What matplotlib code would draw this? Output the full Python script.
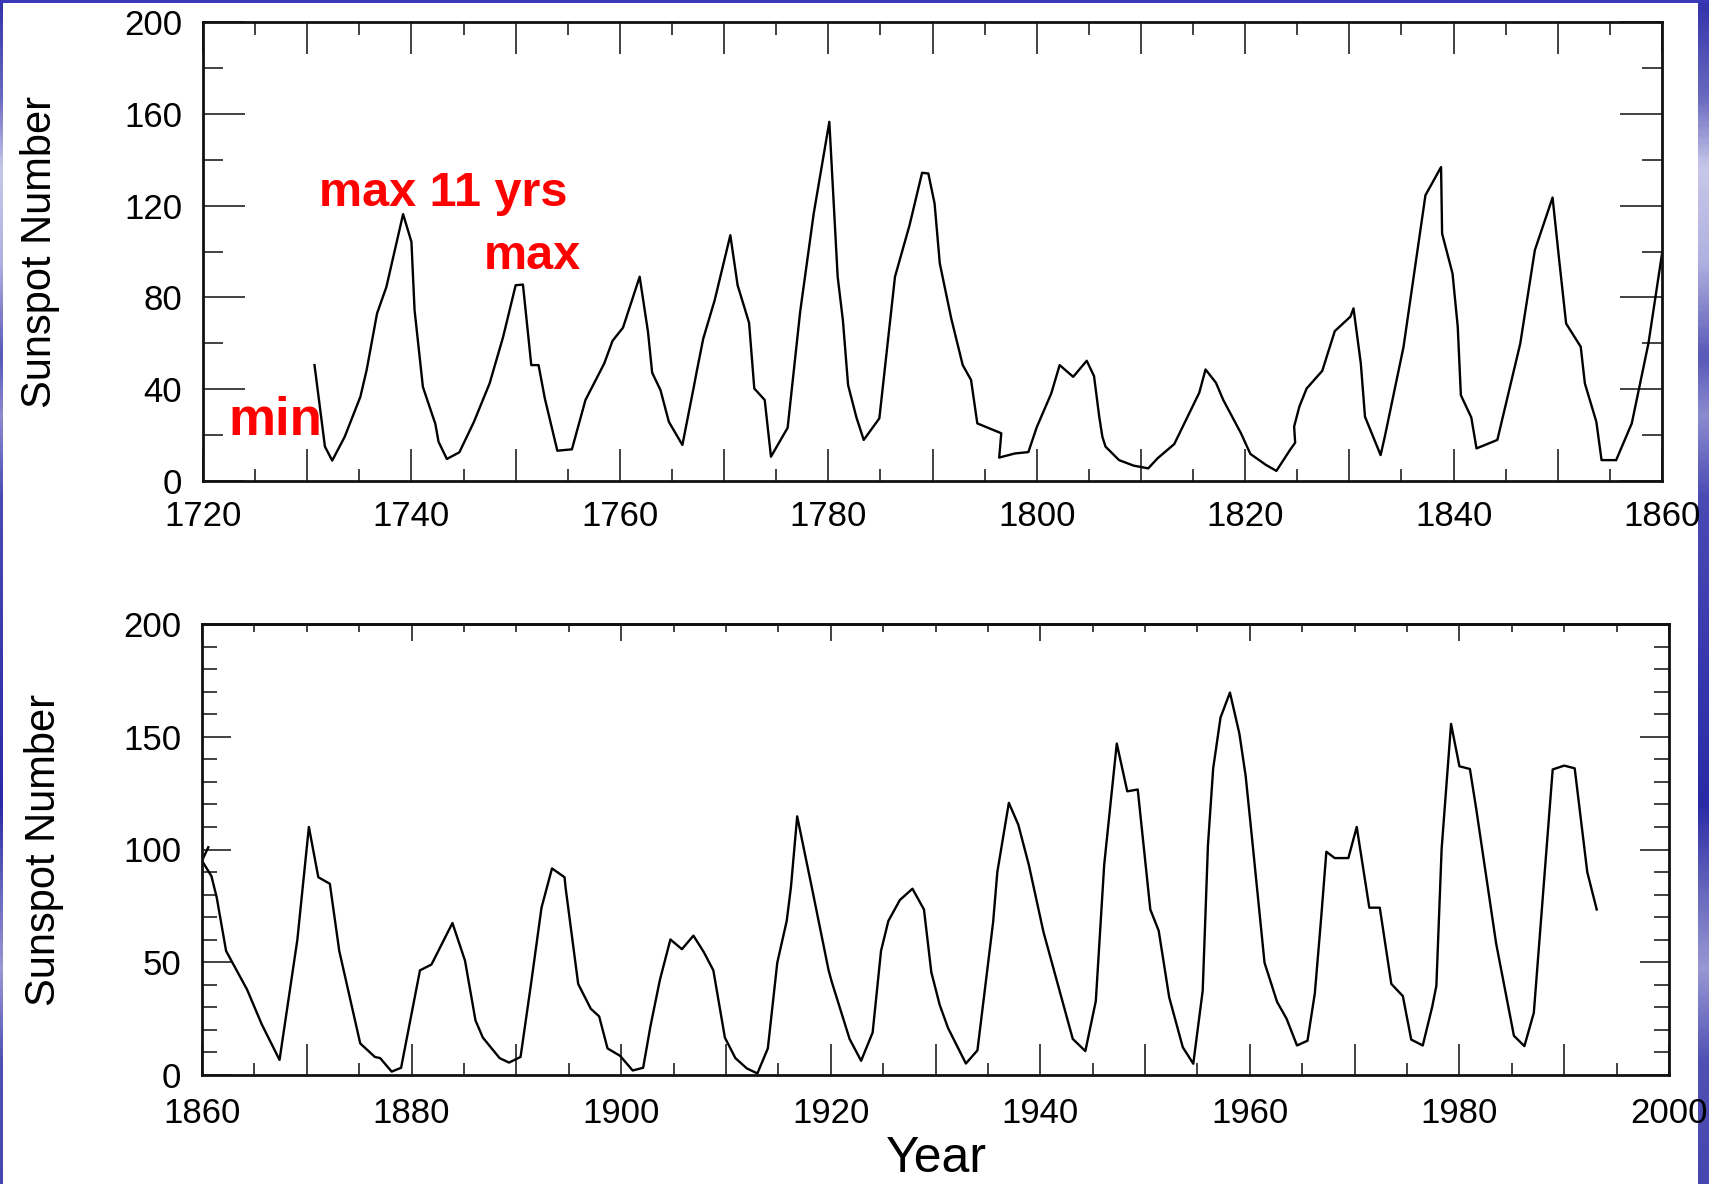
import numpy as np
from matplotlib import pyplot as plt
from matplotlib import font_manager
from matplotlib.colors import LinearSegmentedColormap
from matplotlib.ticker import MultipleLocator, FuncFormatter


# Sunspot numbers, 1730-1860 (upper panel)
early_years = [1730.7, 1731.7, 1732.4, 1733.6, 1735.1, 1735.7, 1736.7, 1737.6, 1739.2, 1740.0,
               1740.3, 1741.1, 1742.3, 1742.6, 1743.4, 1744.6, 1746.0, 1747.5, 1748.8, 1750.0,
               1750.7, 1751.5, 1752.2, 1752.8, 1754.0, 1755.4, 1756.7, 1758.5, 1759.3, 1760.3,
               1761.9, 1762.7, 1763.1, 1763.9, 1764.7, 1766.0, 1767.1, 1767.4, 1768.0, 1769.1,
               1770.6, 1771.3, 1772.4, 1772.9, 1773.9, 1774.5, 1776.1, 1777.3, 1778.6, 1780.1,
               1780.9, 1781.4, 1781.9, 1782.7, 1783.4, 1784.9, 1786.4, 1787.8, 1789.0, 1789.6,
               1790.2, 1790.7, 1791.8, 1792.9, 1793.7, 1794.3, 1796.6, 1796.4, 1797.9, 1799.2,
               1800.0, 1801.4, 1802.2, 1803.5, 1804.8, 1805.5, 1806.0, 1806.3, 1806.6, 1807.9,
               1809.3, 1810.7, 1811.6, 1813.2, 1815.6, 1816.2, 1817.2, 1817.9, 1819.6, 1820.5,
               1822.0, 1823.0, 1824.3, 1824.8, 1824.7, 1825.2, 1825.9, 1827.4, 1828.6, 1830.1,
               1830.4, 1831.1, 1831.5, 1833.0, 1833.4, 1835.2, 1837.3, 1838.8, 1838.9, 1839.9,
               1840.4, 1840.7, 1841.7, 1842.2, 1844.2, 1846.4, 1847.8, 1849.5, 1850.1, 1850.8,
               1852.2, 1852.6, 1853.7, 1854.2, 1855.6, 1857.1, 1858.7, 1860.0]
early_spots = [50.5, 15, 8.9, 19.3, 36.7, 48.3, 73, 84.6, 116.3, 104.2,
               74.5, 41, 24.8, 17.1, 9.6, 12.5, 25.8, 42.5, 62.8, 85.3,
               85.6, 50.5, 50.5, 36, 13.2, 13.8, 35.3, 51.2, 61.1, 66.8,
               89, 65, 47.2, 39.6, 25.8, 15.7, 41.1, 48.3, 62, 78.8,
               107.1, 85.3, 68.9, 40.3, 35.3, 10.6, 23.2, 73.7, 116.5, 156.5,
               89, 70.1, 41.8, 27.7, 17.9, 27.3, 89, 111.5, 134.3, 134,
               120.9, 94.8, 70.8, 50.5, 44, 25.1, 20.8, 10.2, 12, 12.6,
               23.4, 38.2, 50.5, 45.4, 52.4, 45.7, 28, 19.3, 15, 9.1,
               6.7, 5.5, 9.9, 16.1, 38.5, 48.6, 42.8, 35.3, 20.8, 11.8,
               7, 4.4, 13.5, 16.7, 23.7, 32.4, 40.3, 48, 65.3, 71.6,
               75.2, 51.2, 28, 11.3, 19.3, 58.5, 124.5, 136.8, 107.8, 90.4,
               67.2, 37.4, 27.7, 14.2, 17.9, 59.9, 100.6, 123.5, 97.7, 68.6,
               58.5, 42.5, 25.8, 9.1, 9.1, 25.1, 60, 99]

# 1860-1993 (lower panel)
late_years = [1860.6, 1860.0, 1860.9, 1861.4, 1862.3, 1864.3, 1865.7, 1867.4, 1869.1, 1870.2,
              1871.1, 1872.2, 1873.1, 1875.1, 1876.5, 1877.0, 1878.1, 1879.0, 1880.8, 1881.9,
              1883.9, 1885.1, 1886.1, 1886.8, 1888.4, 1889.3, 1890.4, 1891.4, 1892.4, 1893.4,
              1894.6, 1894.7, 1895.9, 1897.1, 1897.9, 1898.7, 1899.9, 1901.1, 1902.1, 1902.8,
              1903.7, 1904.7, 1905.8, 1906.9, 1907.9, 1908.8, 1909.9, 1910.9, 1912.0, 1913.0,
              1914.0, 1914.9, 1915.8, 1916.2, 1916.8, 1918.2, 1919.8, 1920.1, 1921.8, 1922.9,
              1924.0, 1924.8, 1925.5, 1926.6, 1927.8, 1928.9, 1929.6, 1930.4, 1931.2, 1932.9,
              1934.0, 1935.5, 1935.9, 1937.0, 1937.9, 1938.9, 1940.3, 1943.1, 1944.3, 1945.3,
              1946.1, 1947.3, 1948.3, 1949.3, 1950.5, 1951.3, 1952.3, 1953.6, 1954.6, 1955.5,
              1956.0, 1956.5, 1957.2, 1958.1, 1959.0, 1959.6, 1960.2, 1961.4, 1962.6, 1963.5,
              1964.5, 1965.5, 1966.2, 1966.8, 1967.3, 1968.1, 1969.4, 1970.2, 1971.4, 1972.4,
              1973.5, 1974.6, 1975.4, 1976.5, 1977.4, 1977.8, 1978.3, 1979.2, 1980.0, 1981.0,
              1981.6, 1983.5, 1985.2, 1986.2, 1987.1, 1988.9, 1990.0, 1991.0, 1992.2, 1993.1]
late_spots = [101, 95, 88.2, 78.8, 55, 37.9, 22.5, 6.7, 60, 110,
              87.7, 84.8, 55, 14, 8, 7.5, 1.5, 3.2, 46.4, 49,
              67.4, 50.7, 24.2, 16.6, 7.5, 5.5, 8, 40.4, 74.2, 91.6,
              87.7, 83, 40.4, 29.4, 26, 11.8, 8.5, 2, 3.2, 21.7,
              42.2, 60.1, 55.8, 61.8, 54.4, 46.4, 16.6, 7.5, 2.9, 0.7,
              11.8, 49.8, 68.3, 83.1, 114.7, 83.1, 46.4, 41.3, 16, 6.3,
              18.8, 55, 68.3, 77.6, 82.6, 73.4, 45.6, 31.1, 20.8, 5.1,
              10.9, 67.8, 90, 120.7, 111, 93.3, 63.5, 16, 10.6, 32.8,
              93.3, 147, 125.8, 126.6, 73.4, 64, 34.5, 12.3, 5, 37.4,
              101.9, 136, 158.5, 169.6, 151.4, 132.6, 105.3, 49.8, 32.4, 25,
              13.1, 15.2, 36.2, 69.4, 99, 96.2, 96.2, 110, 74.2, 74.2,
              40.4, 35, 15.7, 13.1, 30.2, 39.6, 100.2, 155.7, 136.9, 135.7,
              118.1, 58.4, 17.4, 12.8, 27.6, 135.5, 137.2, 136, 90, 73.4]

# red notes on the upper panel: (text, year, value, size)
notes = [('max 11 yrs', 1731.1, 120, 35), ('max', 1746.9, 92.4, 35), ('min', 1722.4, 20.2, 38)]

installed = {f.name for f in font_manager.fontManager.ttflist}
if 'Liberation Sans Narrow' in installed:
    ylabel_font, ylabel_size = 'Liberation Sans Narrow', 36
else:
    ylabel_font, ylabel_size = 'Liberation Sans', 30
plt.rcParams['font.family'] = ['Liberation Sans', 'DejaVu Sans']

fig = plt.figure(figsize=(17.09, 11.84), dpi=100)

# slide background strips
slide = LinearSegmentedColormap.from_list('slide', [
    (0.0, '#3434ac'), (0.08, '#6a6ac0'), (0.14, '#c8c8ea'), (0.22, '#b0b0e0'),
    (0.30, '#5858b8'), (0.35, '#8c8cd0'), (0.42, '#4a4ab4'), (0.55, '#3a3aae'),
    (0.68, '#2a2aa6'), (0.75, '#6464bc'), (0.82, '#9898d4'), (0.90, '#5050b4'),
    (1.0, '#4646b0')])
grad = np.linspace(0, 1, 400).reshape(-1, 1)
for x0, w in [(0.0, 3 / 1709), (1698 / 1709, 11 / 1709)]:
    strip = fig.add_axes([x0, 0, w, 1])
    strip.imshow(grad, cmap=slide, aspect='auto')
    strip.set_axis_off()
topline = fig.add_axes([0, 1 - 2.5 / 1184, 1, 2.5 / 1184])
topline.set_facecolor('#3a3ab8')
topline.set_xticks([])
topline.set_yticks([])
for s in topline.spines.values():
    s.set_visible(False)


def decade_label(v, pos):
    year = int(round(v))
    return str(year) if year % 20 == 0 else ''


def style_axes(ax, xlim, ylim, ymajor, yminor, xlen, ylen, xpad):
    ax.set_xlim(*xlim)
    ax.set_ylim(*ylim)
    ax.xaxis.set_major_locator(MultipleLocator(10))
    ax.xaxis.set_minor_locator(MultipleLocator(5))
    ax.xaxis.set_major_formatter(FuncFormatter(decade_label))
    ax.yaxis.set_major_locator(MultipleLocator(ymajor))
    ax.yaxis.set_minor_locator(MultipleLocator(yminor))
    ax.tick_params(which='both', direction='in', right=True, color='#333333', width=1.3,
                   labelsize=25, labelcolor='black')
    ax.tick_params(axis='x', which='major', length=xlen[0], pad=xpad)
    ax.tick_params(axis='x', which='minor', length=xlen[1])
    ax.tick_params(axis='y', which='major', length=ylen[0], pad=15)
    ax.tick_params(axis='y', which='minor', length=ylen[1])
    for s in ax.spines.values():
        s.set_linewidth(2.0)
        s.set_color('#111111')


ax1 = fig.add_axes([203 / 1709, 1 - 481 / 1184, 1459 / 1709, 459 / 1184])
ax1.plot(early_years, early_spots, color='black', linewidth=1.7)
style_axes(ax1, (1720, 1860), (0, 200), 40, 20, (23, 9), (30, 14.5), 14)
ax1.tick_params(axis='x', which='both', top=True)
ax1.set_ylabel('Sunspot Number', family=ylabel_font, fontsize=ylabel_size, va='center')
ax1.yaxis.set_label_coords(-0.112, 0.5)
for text, yr, val, size in notes:
    ax1.text(yr, val, text, color='#ff0000', fontsize=size, fontweight='bold',
             ha='left', va='baseline')

ax2 = fig.add_axes([202 / 1709, 1 - 1075 / 1184, 1467 / 1709, 451 / 1184])
ax2.plot(late_years, late_spots, color='black', linewidth=1.7)
style_axes(ax2, (1860, 2000), (0, 200), 50, 10, (22, 9), (21, 11), 16)
top = ax2.secondary_xaxis('top')
top.xaxis.set_major_locator(MultipleLocator(20))
top.xaxis.set_minor_locator(MultipleLocator(5))
top.tick_params(which='both', direction='in', labeltop=False, color='#333333', width=1.3)
top.tick_params(which='major', length=12.5)
top.tick_params(which='minor', length=5.5)
top.spines['top'].set_linewidth(2.0)
top.spines['top'].set_color('#111111')
ax2.set_ylabel('Sunspot Number', family=ylabel_font, fontsize=ylabel_size, va='center')
ax2.yaxis.set_label_coords(-0.108, 0.5)

fig.text(936 / 1709, 0.002, 'Year', fontsize=36, ha='center', va='bottom')

fig.savefig('out.png', dpi=100)
